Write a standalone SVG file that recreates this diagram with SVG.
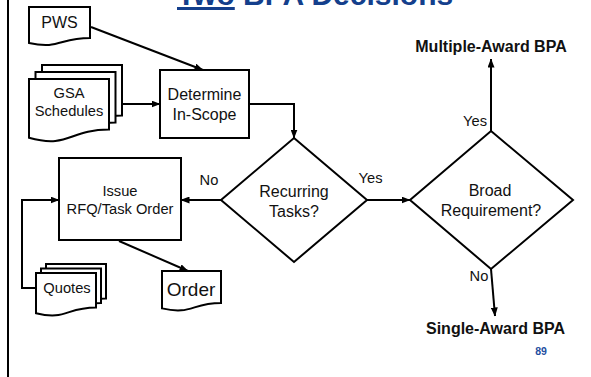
<svg xmlns="http://www.w3.org/2000/svg" width="591" height="377" viewBox="0 0 591 377">
  <style>
    .shape { fill: #ffffff; stroke: #000000; stroke-width: 2; stroke-linejoin: miter; }
    .conn { fill: none; stroke: #000000; stroke-width: 2; }
    .t { font-family: "Liberation Sans", Arial, sans-serif; fill: #111111; text-anchor: middle; }
    .s { font-size: 14.7px; }
    .m { font-size: 16px; }
    .b { font-size: 16px; font-weight: bold; }
    .title { font-family: "Liberation Sans", Arial, sans-serif; font-size: 30px; font-weight: bold; fill: #143f8c; }
  </style>
  <defs>
    <marker id="arrow" viewBox="0 0 9 7" refX="8.5" refY="3.5" markerWidth="9" markerHeight="7" markerUnits="userSpaceOnUse" orient="auto">
      <path d="M0,0 L9,3.5 L0,7 Z" fill="#000000"/>
    </marker>
  </defs>

  <rect x="0" y="0" width="591" height="377" fill="#ffffff"/>

  <!-- slide frame edge -->
  <line x1="8" y1="0" x2="8" y2="377" stroke="#000000" stroke-width="2"/>

  <!-- title -->
  <text class="title" x="177" y="5"><tspan text-decoration="underline">Two</tspan> BPA Decisions</text>

  <!-- connectors -->
  <g id="connectors">
    <line class="conn" x1="91" y1="27" x2="203" y2="70" marker-end="url(#arrow)"/>
    <line class="conn" x1="122" y1="104" x2="160" y2="104" marker-end="url(#arrow)"/>
    <path class="conn" d="M249,104 H294 V138" marker-end="url(#arrow)"/>
    <line class="conn" x1="221" y1="200" x2="181" y2="200" marker-end="url(#arrow)"/>
    <line class="conn" x1="367" y1="200" x2="410" y2="200" marker-end="url(#arrow)"/>
    <line class="conn" x1="491" y1="131" x2="491" y2="59" marker-end="url(#arrow)"/>
    <line class="conn" x1="491" y1="269" x2="495" y2="316" marker-end="url(#arrow)"/>
    <path class="conn" d="M36,288 H22 V200 H59" marker-end="url(#arrow)"/>
    <line class="conn" x1="119" y1="241" x2="188" y2="271" marker-end="url(#arrow)"/>
  </g>

  <!-- PWS document -->
  <g id="pws">
    <path class="shape" d="M29,7 H90 V37.9 C59.5,37.9 59.5,49.6 29,43 Z"/>
    <text class="t" x="59.5" y="28" font-size="16px">PWS</text>
  </g>

  <!-- GSA Schedules multi-document -->
  <g id="gsa-schedules">
    <path class="shape" d="M42,65 H122 V115.5 C82,115.5 82,134.8 42,123.8 Z"/>
    <path class="shape" d="M35.5,72 H115.5 V122.5 C75.5,122.5 75.5,141.8 35.5,130.8 Z"/>
    <path class="shape" d="M29,79 H109 V129.5 C69,129.5 69,148.8 29,137.8 Z"/>
    <text class="t s" x="69" y="98">GSA</text>
    <text class="t s" x="69" y="116">Schedules</text>
  </g>

  <!-- Determine In-Scope -->
  <g id="determine">
    <rect class="shape" x="160" y="70" width="89" height="68"/>
    <text class="t m" x="204.5" y="100">Determine</text>
    <text class="t m" x="204.5" y="120">In-Scope</text>
  </g>

  <!-- Recurring Tasks decision -->
  <g id="recurring">
    <polygon class="shape" points="294,138 367,200 294,262 221,200"/>
    <text class="t m" x="294" y="197">Recurring</text>
    <text class="t m" x="294" y="217">Tasks?</text>
  </g>

  <!-- Broad Requirement decision -->
  <g id="broad">
    <polygon class="shape" points="491,131 573,200 491,269 410,200"/>
    <text class="t m" x="490" y="196">Broad</text>
    <text class="t m" x="491" y="216">Requirement?</text>
  </g>

  <!-- Issue RFQ/Task Order -->
  <g id="issue">
    <rect class="shape" x="59" y="158" width="122" height="82"/>
    <text class="t s" x="120" y="196">Issue</text>
    <text class="t s" x="120" y="214">RFQ/Task Order</text>
  </g>

  <!-- Quotes multi-document -->
  <g id="quotes">
    <path class="shape" d="M46,264 H106 V298.5 C76,298.5 76,311.6 46,304.2 Z"/>
    <path class="shape" d="M41,268.5 H101 V303 C71,303 71,316.1 41,308.7 Z"/>
    <path class="shape" d="M36,273 H96 V307.5 C66,307.5 66,320.6 36,313.2 Z"/>
    <text class="t s" x="67" y="293">Quotes</text>
  </g>

  <!-- Order document -->
  <g id="order">
    <path class="shape" d="M162,271 H221 V303 C191.5,303 191.5,315.3 162,308.4 Z"/>
    <text class="t" x="191" y="296" font-size="19px">Order</text>
  </g>

  <!-- outcomes and branch labels -->
  <g id="labels">
    <text class="t s" x="209" y="185">No</text>
    <text class="t s" x="370.5" y="183">Yes</text>
    <text class="t s" x="475" y="126">Yes</text>
    <text class="t s" x="479" y="281">No</text>
  </g>
  <g id="multiple-award">
    <text class="t b" x="491" y="52">Multiple-Award BPA</text>
  </g>
  <g id="single-award">
    <text class="t b" x="495.5" y="334">Single-Award BPA</text>
  </g>

  <text x="541" y="355" font-family="Liberation Sans, Arial, sans-serif" font-size="10.5px" font-weight="bold" fill="#1f4f9f" text-anchor="middle">89</text>
</svg>
